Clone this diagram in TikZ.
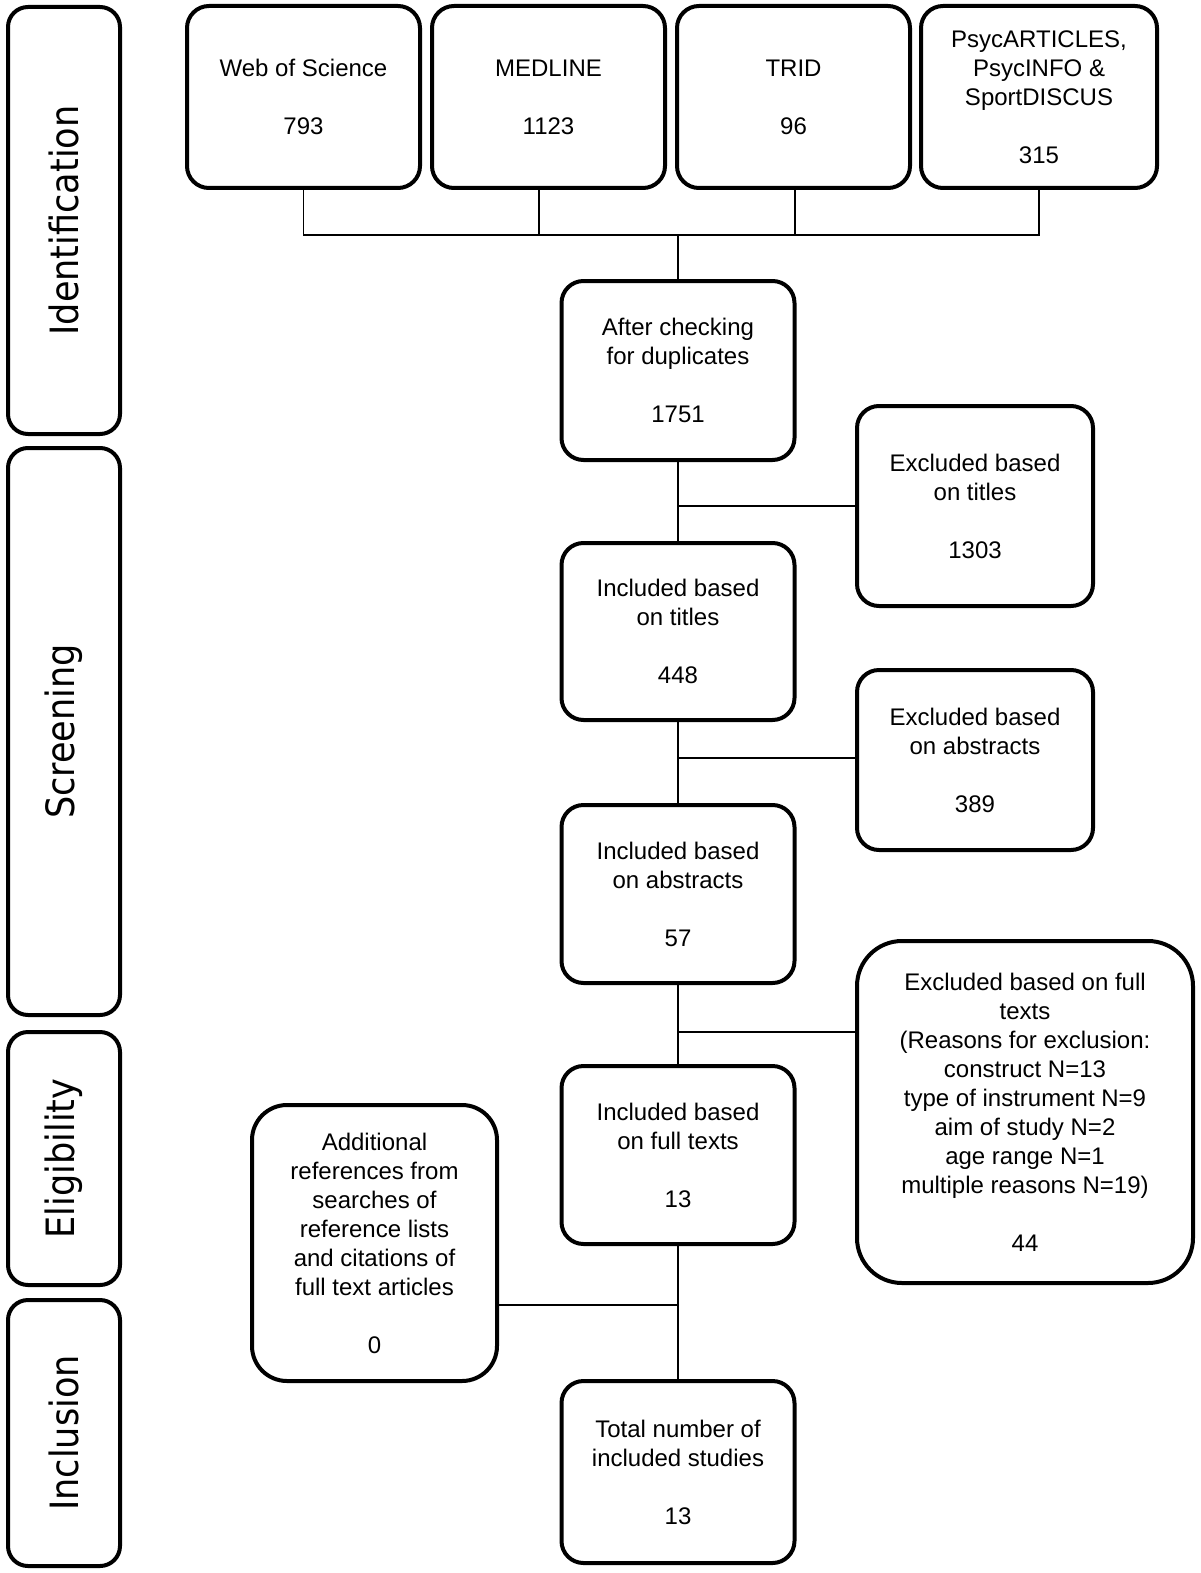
\documentclass[tikz,border=0pt]{standalone}
\usepackage{fontspec}
\setmainfont{Liberation Sans}
\newfontfamily\phasefont{DejaVu Sans}[FakeStretch=0.9]
\tikzset{
  stage/.style={draw, line width=4pt, rounded corners=22pt, align=center,
    minimum width=233pt, minimum height=180pt, inner sep=0pt,
    font=\fontsize{24}{29}\selectfont},
  phase/.style={draw, line width=4pt, rounded corners=20pt, rotate=90,
    minimum height=112pt, inner sep=0pt,
    font=\phasefont\fontsize{39}{45}\selectfont},
  link/.style={line width=1.5pt}
}
\begin{document}
\begin{tikzpicture}[x=1pt,y=-1pt]
  \useasboundingbox (0,0) rectangle (1200,1573);
  % phases
  \node[phase, minimum width=427pt] (ident) at (64,220.5) {Identification};
  \node[phase, minimum width=567pt] (screen) at (64,731.5) {Screening};
  \node[phase, minimum width=253pt] (elig) at (64,1158.5) {Eligibility};
  \node[phase, minimum width=266pt] (incl) at (64,1433) {Inclusion};
  % databases
  \node[stage, minimum height=182pt] (wos) at (303.5,97) {Web of Science\\~\\793};
  \node[stage, minimum height=182pt] (medline) at (548.5,97) {MEDLINE\\~\\1123};
  \node[stage, minimum height=182pt] (trid) at (793.5,97) {TRID\\~\\96};
  \node[stage, minimum height=182pt, minimum width=236pt] (psyc) at (1039,97)
    {PsycARTICLES,\\PsycINFO \&\\SportDISCUS\\~\\315};
  % main column
  \node[stage, minimum height=179pt] (dup) at (678,370.5) {After checking\\for duplicates\\~\\1751};
  \node[stage, minimum height=177pt] (incttl) at (678,631.5) {Included based\\on titles\\~\\448};
  \node[stage, minimum height=178pt] (incabs) at (678,894) {Included based\\on abstracts\\~\\57};
  \node[stage, minimum height=178pt] (incfull) at (678,1155) {Included based\\on full texts\\~\\13};
  \node[stage, minimum height=182pt] (total) at (678,1472) {Total number of\\included studies\\~\\13};
  % exclusions
  \node[stage, minimum height=200pt, minimum width=236pt] (exttl) at (975,506) {Excluded based\\on titles\\~\\1303};
  \node[stage, minimum height=180pt, minimum width=236pt] (exabs) at (975,760) {Excluded based\\on abstracts\\~\\389};
  \node[stage, minimum height=342pt, minimum width=336pt, rounded corners=45pt] (exfull) at (1025,1112)
    {Excluded based on full\\texts\\(Reasons for exclusion:\\construct N=13\\type of instrument N=9\\aim of study N=2\\age range N=1\\multiple reasons N=19)\\~\\44};
  \node[stage, minimum height=276pt, minimum width=245pt, rounded corners=35pt] (addl) at (374.5,1243)
    {Additional\\references from\\searches of\\reference lists\\and citations of\\full text articles\\~\\0};
  % joints
  \coordinate (bar) at (678,235);
  \coordinate (j3) at (678,1032);
  \coordinate (j4) at (678,1305);
  % connectors
  \draw[link] (wos.south) |- (bar);
  \draw[link] ([xshift=-9.5pt]medline.south) -- ([xshift=-9.5pt]medline.south |- bar);
  \draw[link] ([xshift=1.5pt]trid.south) -- ([xshift=1.5pt]trid.south |- bar);
  \draw[link] (psyc.south) |- (bar);
  \draw[link] (bar) -- (dup.north);
  \draw[link] (dup.south) -- (incttl.north);
  \draw[link] (incttl.south) -- (incabs.north);
  \draw[link] (incabs.south) -- (incfull.north);
  \draw[link] (incfull.south) -- (total.north);
  \draw[link] (exttl.west) -- (exttl.west -| dup.south);
  \draw[link] ([yshift=2pt]exabs.west) -- ([yshift=2pt]exabs.west -| incttl.south);
  \draw[link] (j3) -- (j3 -| exfull.west);
  \draw[link] (j4) -- (j4 -| addl.east);
\end{tikzpicture}
\end{document}
